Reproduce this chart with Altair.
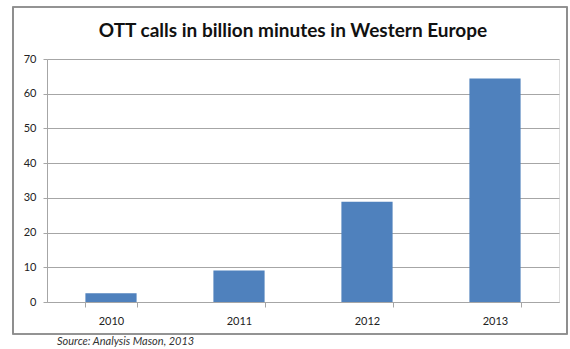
import altair as alt
import pandas as pd

years = ["2010", "2011", "2012", "2013"]
minutes = [2.5, 9.1, 28.9, 64.4]
title_text = "OTT calls in billion minutes in Western Europe"
source_text = "Source: Analysis Mason, 2013"

df = pd.DataFrame({"year": years, "minutes": minutes})

FONT = "Lato"
GRID = "#a6a6a6"

bars = alt.Chart(df).mark_bar(color="#4f81bd").encode(
    x=alt.X("year:N", title=None, sort=years,
            scale=alt.Scale(paddingInner=0.6, paddingOuter=0.3),
            axis=alt.Axis(labelAngle=0, labelFont=FONT, labelFontSize=11,
                          labelColor="#222222", labelPadding=8,
                          tickBand="extent", tickSize=5, tickColor=GRID,
                          domainColor=GRID, grid=False)),
    y=alt.Y("minutes:Q", title=None,
            scale=alt.Scale(domain=[0, 70]),
            axis=alt.Axis(values=[0, 10, 20, 30, 40, 50, 60, 70],
                          labelFont=FONT, labelFontSize=11, labelColor="#222222",
                          labelPadding=7, tickSize=4, tickColor=GRID,
                          domainColor=GRID, gridColor=GRID, grid=True)),
)

frame = alt.Chart(df).mark_rect(fill=None, stroke="#8c8c8c", strokeWidth=1.2).encode(
    x=alt.value(-34), x2=alt.value(520),
    y=alt.value(-52), y2=alt.value(275),
)

title = alt.Chart(pd.DataFrame({"t": [title_text]})).mark_text(
    font=FONT, fontSize=19, fontWeight="bold", align="center",
    baseline="alphabetic", color="#111111"
).encode(x=alt.value(246), y=alt.value(-22), text="t:N")

source = alt.Chart(pd.DataFrame({"t": [source_text]})).mark_text(
    font=FONT, fontSize=11, fontStyle="italic", align="left", baseline="middle",
    color="#333333"
).encode(x=alt.value(10), y=alt.value(283), text="t:N")

chart = alt.layer(frame, bars, title, source).properties(
    width=512, height=243,
    autosize=alt.AutoSizeParams(type="none"),
    padding={"left": 47, "top": 59, "right": 11, "bottom": 47},
).configure_view(stroke=None).configure(background="white")

chart.save("out.html", embed_options={"renderer": "svg", "actions": False})
